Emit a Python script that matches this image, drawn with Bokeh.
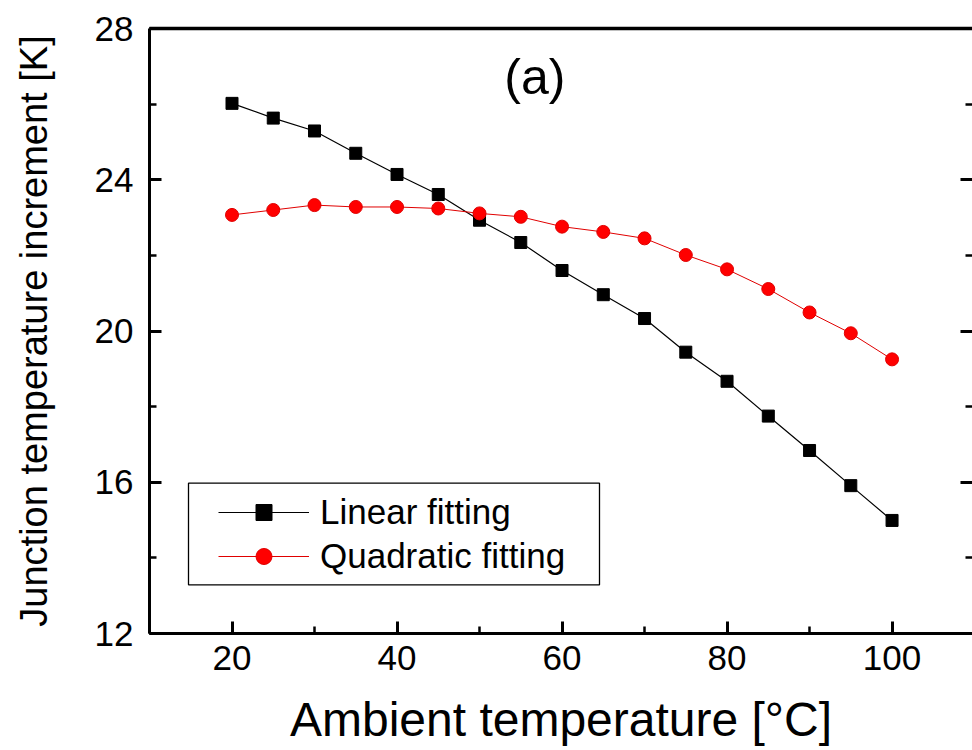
from bokeh.plotting import figure
from bokeh.models import (Range1d, LinearAxis, SingleIntervalTicker, FixedTicker, Legend,
                          LegendItem, Label, BoxAnnotation, CustomJSTickFormatter)
from bokeh.embed import file_html
from bokeh.resources import INLINE

# ---- data ----
ambient_temp = [20, 25, 30, 35, 40, 45, 50, 55, 60, 65, 70, 75, 80, 85, 90, 95, 100]
linear_fitting = [26.02, 25.63, 25.29, 24.70, 24.14, 23.61, 22.93, 22.34, 21.60,
                  20.96, 20.33, 19.44, 18.67, 17.75, 16.84, 15.91, 14.99]
quadratic_fitting = [23.07, 23.20, 23.33, 23.28, 23.28, 23.24, 23.11, 23.02, 22.76,
                     22.62, 22.45, 22.01, 21.63, 21.11, 20.49, 19.94, 19.25]
series_names = ["Linear fitting", "Quadratic fitting"]
x_title = "Ambient temperature [°C]"
y_title = "Junction temperature increment [K]"
panel_tag = "(a)"

FONT = "Liberation Sans"

p = figure(width=972, height=750,
           x_range=Range1d(10, 109.75), y_range=Range1d(12, 28),
           output_backend="svg", toolbar_location=None,
           min_border_left=149, min_border_right=0,
           min_border_top=28, min_border_bottom=117)
p.outline_line_color = None
p.xgrid.grid_line_color = None
p.ygrid.grid_line_color = None
p.background_fill_color = "white"
p.border_fill_color = "white"

xt = SingleIntervalTicker(interval=20, num_minor_ticks=2)
yt = SingleIntervalTicker(interval=4, num_minor_ticks=2)
p.xaxis.ticker = xt
p.yaxis.ticker = yt

for ax in (p.xaxis[0], p.yaxis[0]):
    ax.axis_line_width = 3
    ax.axis_line_color = "black"
    ax.major_tick_in = 12
    ax.major_tick_out = 0
    ax.minor_tick_in = 7
    ax.minor_tick_out = 0
    ax.major_tick_line_width = 3
    ax.minor_tick_line_width = 2.5
    ax.major_tick_line_color = "black"
    ax.minor_tick_line_color = "black"
    ax.major_label_text_font = FONT
    ax.major_label_text_font_size = "35px"
    ax.major_label_text_color = "black"
    ax.axis_label_text_font = FONT
    ax.axis_label_text_font_style = "normal"
    ax.axis_label_text_color = "black"

p.xaxis.axis_label = x_title
p.xaxis.axis_label_text_font_size = "48px"
p.xaxis.major_label_standoff = 12
p.xaxis.axis_label_standoff = 20

p.yaxis.axis_label = y_title
p.yaxis.axis_label_text_font_size = "38px"
p.yaxis.major_label_standoff = 16
p.yaxis.axis_label_standoff = 37

# top border (no ticks)
top_ax = LinearAxis(ticker=FixedTicker(ticks=[]), axis_line_width=3.5, axis_line_color="black",
                    major_tick_in=0, major_tick_out=0, minor_tick_in=0, minor_tick_out=0,
                    major_label_standoff=0)
p.add_layout(top_ax, "above")

# right side: inward ticks only (frame edge is cropped in the reference)
right_ax = LinearAxis(ticker=SingleIntervalTicker(interval=4, num_minor_ticks=2),
                      axis_line_color=None,
                      major_tick_in=12, major_tick_out=0, minor_tick_in=7, minor_tick_out=0,
                      major_tick_line_width=3, minor_tick_line_width=2.5,
                      major_label_standoff=0,
                      formatter=CustomJSTickFormatter(code="return ''"))
p.add_layout(right_ax, "right")

l_line = p.line(ambient_temp, linear_fitting, line_color="black", line_width=1.2)
l_pts = p.scatter(ambient_temp, linear_fitting, marker="square", size=12,
                  fill_color="black", line_color="black")
q_line = p.line(ambient_temp, quadratic_fitting, line_color="#e00000", line_width=1.0)
q_pts = p.scatter(ambient_temp, quadratic_fitting, marker="circle", size=13,
                  fill_color="#ff0000", line_color="#e00000")

legend = Legend(items=[LegendItem(label=series_names[0], renderers=[l_line, l_pts]),
                       LegendItem(label=series_names[1], renderers=[q_line, q_pts])],
                location=(69, 57), border_line_color=None, background_fill_alpha=0,
                padding=0, margin=0, spacing=4, glyph_width=91, glyph_height=40,
                label_standoff=11, label_text_font=FONT, label_text_font_size="35px",
                label_text_color="black")
p.add_layout(legend)

box = BoxAnnotation(left=188, right=599, top=482.7, bottom=584.3,
                    left_units="canvas", right_units="canvas",
                    top_units="canvas", bottom_units="canvas",
                    fill_alpha=0, line_color="black", line_width=1.3, line_alpha=1)
p.add_layout(box)

p.add_layout(Label(x=56.7, y=26.72, text=panel_tag, text_align="center",
                   text_baseline="alphabetic", text_font=FONT, text_font_size="50px",
                   text_color="black"))

open("out.html", "w").write(file_html(p, INLINE))
